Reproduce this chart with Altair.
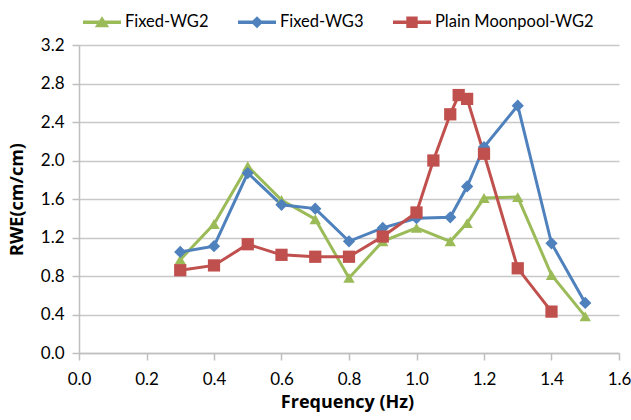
import altair as alt
import pandas as pd

series_names = ["Fixed-WG2", "Fixed-WG3", "Plain Moonpool-WG2"]
colors = ["#9BBB59", "#4F81BD", "#C0504D"]
marker_shapes = ["triangle-up", "diamond", "square"]
marker_sizes = [130, 150, 150]

freq_fixed = [0.3, 0.4, 0.5, 0.6, 0.7, 0.8, 0.9, 1.0, 1.1, 1.15, 1.2, 1.3, 1.4, 1.5]
fixed_wg2 = [0.97, 1.34, 1.94, 1.59, 1.39, 0.78, 1.16, 1.30, 1.16, 1.35, 1.61, 1.62, 0.81, 0.38]
fixed_wg3 = [1.05, 1.11, 1.87, 1.54, 1.50, 1.16, 1.30, 1.40, 1.41, 1.73, 2.14, 2.57, 1.14, 0.52]

freq_moon = [0.3, 0.4, 0.5, 0.6, 0.7, 0.8, 0.9, 1.0, 1.05, 1.1, 1.125, 1.15, 1.2, 1.3, 1.4]
moon_wg2 = [0.86, 0.91, 1.13, 1.02, 1.00, 1.00, 1.21, 1.46, 2.00, 2.48, 2.68, 2.64, 2.07, 0.88, 0.43]

x_ticks = [0.0, 0.2, 0.4, 0.6, 0.8, 1.0, 1.2, 1.4, 1.6]
y_ticks = [0.0, 0.4, 0.8, 1.2, 1.6, 2.0, 2.4, 2.8, 3.2]

rows = []
for f, v in zip(freq_fixed, fixed_wg2):
    rows.append({"freq": f, "rwe": v, "series": series_names[0]})
for f, v in zip(freq_fixed, fixed_wg3):
    rows.append({"freq": f, "rwe": v, "series": series_names[1]})
for f, v in zip(freq_moon, moon_wg2):
    rows.append({"freq": f, "rwe": v, "series": series_names[2]})
df = pd.DataFrame(rows)

FONT = "Lato"
TITLE_FONT = "Open Sans"

# legend glyphs: a short line (thin bar) with the series marker on it
bar = "M-1,-0.09L1,-0.09L1,0.09L-1,0.09Z"
legend_paths = [
    bar + "M0,-0.32L0.38,0.26L-0.38,0.26Z",
    bar + "M0,-0.32L0.32,0L0,0.32L-0.32,0Z",
    bar + "M-0.3,-0.3L0.3,-0.3L0.3,0.3L-0.3,0.3Z",
]

x_axis = alt.Axis(
    values=x_ticks, format=".1f", grid=False, title="Frequency (Hz)",
    titleX=268, titleY=49, titleBaseline="middle", labelFlush=False,
    labelPadding=11,
)
y_axis = alt.Axis(
    values=y_ticks, format=".1f", title="RWE(cm/cm)",
    titleX=-62, titleY=154, titleBaseline="middle", titleAlign="center",
    labelFlush=False, labelOverlap=False, labelPadding=8,
)
x_scale = alt.Scale(domain=[0, 1.6], nice=False)
y_scale = alt.Scale(domain=[0, 3.2], nice=False)


def xy():
    return dict(
        x=alt.X("freq:Q", scale=x_scale, axis=x_axis),
        y=alt.Y("rwe:Q", scale=y_scale, axis=y_axis),
    )


layers = []
for name, col in zip(series_names, colors):
    layers.append(
        alt.Chart(df)
        .transform_filter(alt.datum.series == name)
        .mark_line(strokeWidth=3, color=col)
        .encode(**xy())
    )
for name, col, shp, sz in zip(series_names, colors, marker_shapes, marker_sizes):
    layers.append(
        alt.Chart(df)
        .transform_filter(alt.datum.series == name)
        .mark_point(filled=True, size=sz, opacity=1, shape=shp, color=col)
        .encode(**xy())
    )

legend_props = dict(
    title=None,
    orient="none",
    direction="horizontal",
    legendX=4,
    legendY=-42,
    symbolSize=1444,
    symbolOpacity=1,
    symbolStrokeWidth=0,
    labelFontSize=16.5,
    labelFont=FONT,
    labelColor="#000000",
    labelOffset=4,
    columnPadding=29,
    padding=0,
)

legend_layer = alt.Chart(df).mark_point(filled=True, opacity=0).encode(
    **xy(),
    color=alt.Color(
        "series:N",
        scale=alt.Scale(domain=series_names, range=colors),
        legend=alt.Legend(**legend_props),
    ),
    shape=alt.Shape(
        "series:N",
        scale=alt.Scale(domain=series_names, range=legend_paths),
        legend=alt.Legend(**legend_props),
    ),
)
layers.append(legend_layer)

chart = (
    alt.layer(*layers)
    .properties(
        width=540,
        height=308,
        autosize=alt.AutoSizeParams(type="none"),
        padding={"left": 79, "top": 45, "right": 12, "bottom": 67},
    )
    .configure_view(stroke=None)
    .configure_axis(
        labelFont=FONT,
        labelFontSize=17,
        labelColor="#000000",
        titleFont=TITLE_FONT,
        titleFontSize=18,
        titleFontWeight="bold",
        titleColor="#000000",
        domainColor="#BFBFBF",
        domainWidth=1.5,
        tickColor="#BFBFBF",
        tickWidth=1.5,
        tickSize=7,
        gridColor="#C8C8C8",
        gridWidth=1.5,
    )
)

chart.save("out.html", embed_options={"renderer": "svg", "actions": False})
